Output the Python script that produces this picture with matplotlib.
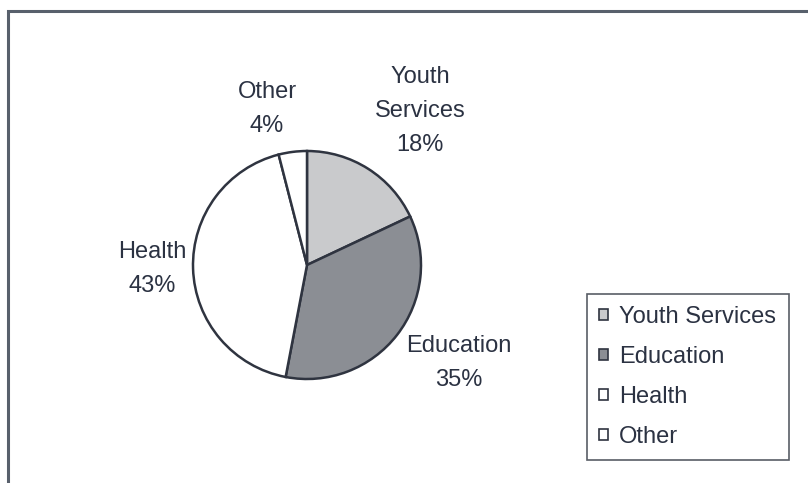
import matplotlib.pyplot as plt
from matplotlib.patches import Rectangle

# data
categories = ['Youth Services', 'Education', 'Health', 'Other']
shares = [18, 35, 43, 4]
slice_colors = ['#c9cacc', '#8b8e94', '#ffffff', '#ffffff']
pie_labels = ['Youth\nServices\n18%', 'Education\n35%', 'Health\n43%', 'Other\n4%']

text_col = '#2b3242'
plt.rcParams['font.family'] = ['Liberation Sans', 'DejaVu Sans']
fs = 17

fig = plt.figure(figsize=(8.08, 4.83), dpi=100)
ax = fig.add_axes([0, 0, 1, 1])

# outer frame (cropped on right and bottom)
frame = Rectangle((8, -20), 820, 492, fill=False, edgecolor='#58606c', lw=2.2)
ax.add_patch(frame)

wedges, _ = ax.pie(shares, colors=slice_colors, startangle=90, counterclock=False,
                   center=(307, 218), radius=114, frame=True,
                   wedgeprops=dict(edgecolor='#2f3440', linewidth=1.8))
ax.set_xlim(0, 808)
ax.set_ylim(0, 483)
ax.axis('off')

# slice labels
label_pos = [(420, 372), (459, 120), (152, 214), (267, 374)]
for txt, (x, y) in zip(pie_labels, label_pos):
    ax.text(x, y, txt, ha='center', va='center', fontsize=fs,
            color=text_col, linespacing=1.7)

leg = ax.legend(wedges, categories, loc='upper left',
                bbox_to_anchor=(587 / 808, 1 - 294 / 483),
                fontsize=fs, frameon=True, fancybox=False,
                handlelength=0.35, handleheight=0.35, handletextpad=0.5,
                labelspacing=0.76, borderpad=0.52, borderaxespad=0)
leg.get_frame().set_edgecolor('#2f3440')
leg.get_frame().set_linewidth(1.2)
for t in leg.get_texts():
    t.set_color(text_col)
for h in leg.legend_handles:
    h.set_linewidth(1.2)

fig.savefig('out.png', dpi=100)
